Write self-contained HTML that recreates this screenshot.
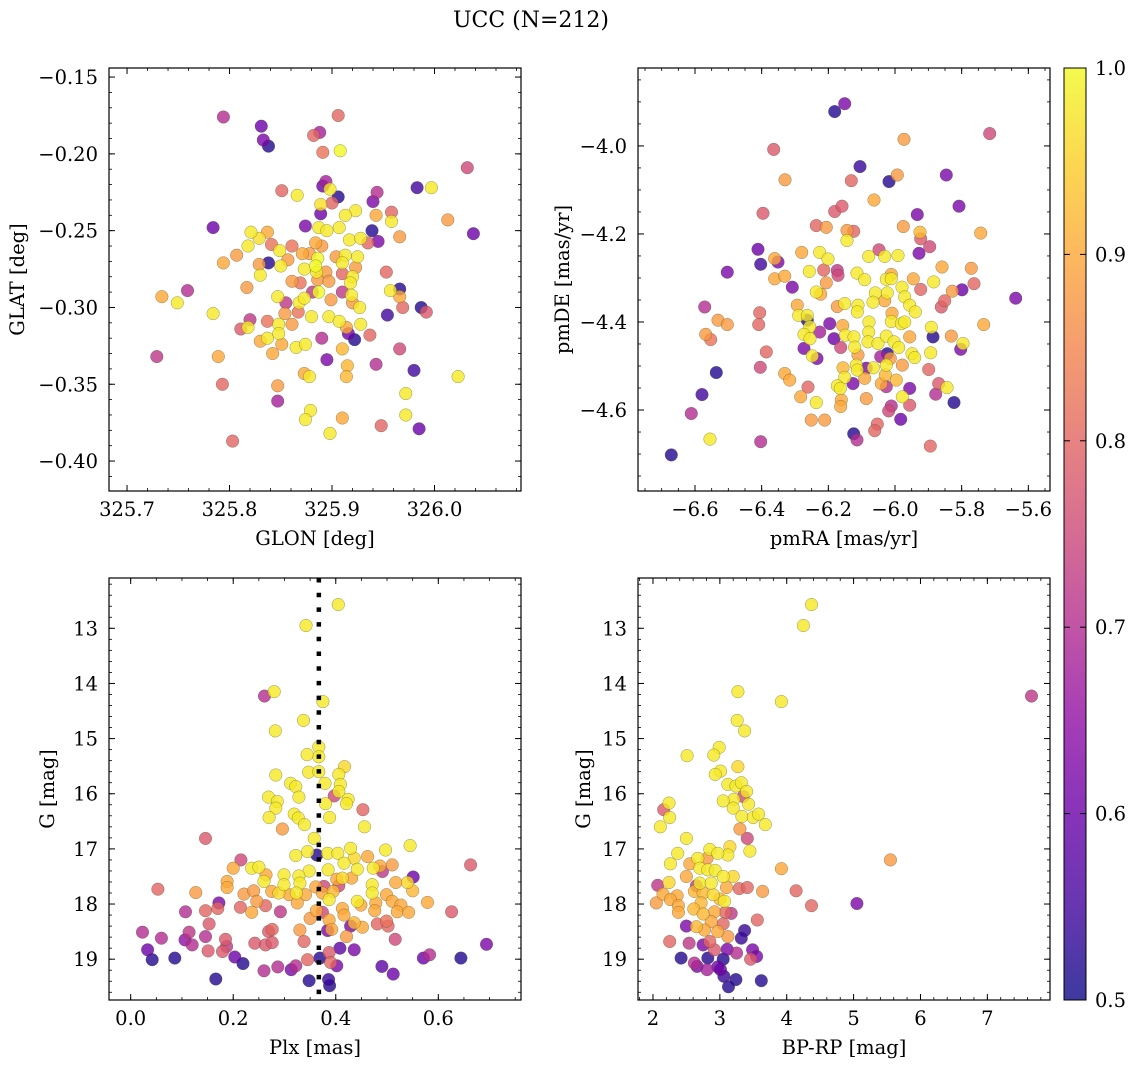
<!DOCTYPE html>
<html><head><meta charset="utf-8">
<style>
html,body{margin:0;padding:0;background:#fff;}
svg{display:block;font-family:"DejaVu Serif","Liberation Serif",serif;}
</style></head>
<body>
<svg id="chart" width="1136" height="1067" viewBox="0 0 1136 1067" xmlns="http://www.w3.org/2000/svg">
<text x="531" y="27" font-size="22" text-anchor="middle">UCC (N=212)</text>
<defs>
<linearGradient id="plasma" x1="0" y1="1" x2="0" y2="0">
<stop offset="0" stop-color="#0d0887"/><stop offset="0.1" stop-color="#41049d"/><stop offset="0.2" stop-color="#6a00a8"/><stop offset="0.3" stop-color="#8f0da4"/><stop offset="0.4" stop-color="#b12a90"/><stop offset="0.5" stop-color="#cc4778"/><stop offset="0.6" stop-color="#e16462"/><stop offset="0.7" stop-color="#f2844b"/><stop offset="0.8" stop-color="#fca636"/><stop offset="0.9" stop-color="#fcce25"/><stop offset="1" stop-color="#f0f921"/>
</linearGradient>
</defs>
<g id="colorbar">
<rect x="1064" y="68" width="22" height="932" fill="url(#plasma)" opacity="0.8"/>
<rect x="1064" y="68" width="22" height="932" fill="none" stroke="#000" stroke-width="1"/>
</g>
</svg>
<script>
// ---- Top-left: GLON vs GLAT ----
const tlX=[325.794,325.831,325.833,325.838,325.906,325.888,325.882,325.891,325.908,326.032,325.851,325.866,325.894,325.891,325.898,325.906,325.900,325.889,325.889,325.944,325.940,325.943,325.983,325.997,325.958,325.958,326.013,326.038,325.784,325.966,325.939,325.945,325.923,325.913,325.821,325.837,325.829,325.818,325.841,325.849,325.861,325.874,325.887,325.895,325.907,325.917,325.928,325.935,325.884,325.890,325.878,325.886,325.884,325.904,325.913,325.925,325.910,325.923,325.871,325.857,325.838,325.829,325.850,325.830,325.873,325.794,325.807,325.885,325.894,325.910,325.920,325.918,325.861,325.869,325.886,325.897,325.953,325.817,325.734,325.759,325.749,325.784,325.847,325.855,325.868,325.873,325.881,325.887,325.899,325.910,325.919,325.920,325.927,325.957,325.966,325.966,325.969,325.987,325.992,325.954,325.854,325.867,325.880,325.897,325.907,325.914,325.928,325.916,325.922,325.937,325.837,325.848,325.861,325.820,325.811,325.818,325.837,325.830,325.848,325.851,325.865,325.874,325.890,325.910,325.842,325.729,325.789,325.895,325.943,325.915,325.914,325.966,325.980,326.023,325.873,325.878,325.793,325.847,325.847,325.972,325.879,325.874,325.910,325.972,325.948,325.985,325.898,325.803];
const tlY=[-0.176,-0.182,-0.191,-0.195,-0.175,-0.186,-0.188,-0.199,-0.198,-0.209,-0.224,-0.227,-0.218,-0.221,-0.223,-0.228,-0.232,-0.233,-0.239,-0.225,-0.231,-0.240,-0.222,-0.222,-0.238,-0.244,-0.243,-0.252,-0.248,-0.254,-0.250,-0.257,-0.237,-0.240,-0.251,-0.251,-0.255,-0.260,-0.259,-0.263,-0.260,-0.247,-0.248,-0.250,-0.248,-0.256,-0.255,-0.258,-0.258,-0.260,-0.265,-0.268,-0.273,-0.267,-0.266,-0.267,-0.271,-0.274,-0.265,-0.269,-0.271,-0.272,-0.273,-0.279,-0.275,-0.271,-0.266,-0.277,-0.277,-0.278,-0.280,-0.284,-0.283,-0.284,-0.282,-0.283,-0.277,-0.287,-0.293,-0.289,-0.297,-0.304,-0.293,-0.297,-0.297,-0.294,-0.290,-0.290,-0.295,-0.290,-0.292,-0.297,-0.300,-0.289,-0.288,-0.293,-0.300,-0.300,-0.303,-0.305,-0.304,-0.303,-0.306,-0.306,-0.309,-0.313,-0.311,-0.317,-0.321,-0.318,-0.309,-0.311,-0.311,-0.308,-0.314,-0.313,-0.320,-0.322,-0.317,-0.324,-0.326,-0.324,-0.320,-0.327,-0.330,-0.332,-0.332,-0.334,-0.337,-0.338,-0.345,-0.327,-0.341,-0.345,-0.343,-0.345,-0.350,-0.351,-0.361,-0.356,-0.367,-0.373,-0.372,-0.370,-0.377,-0.379,-0.382,-0.387];
const tlP=[.7,.6,.62,.52,.8,.68,.8,.82,1,.75,.8,.98,.68,.6,.98,.52,.8,.97,.6,.7,.62,.9,.55,.98,.8,.98,.88,.6,.6,.88,.52,.62,.98,.98,.98,.9,.97,.98,.82,.98,.82,.62,.98,.98,.98,.98,.98,.8,.9,.88,.88,1,1,.88,.98,.98,.98,.88,.9,.88,.52,.88,.98,.98,.98,.9,.88,.98,.88,.8,.98,.98,.88,.82,.88,.88,.8,.88,.9,.7,.98,.98,.98,.72,.98,.98,.72,1,.88,.72,.98,.88,.98,.98,.52,.9,.8,.52,.78,.55,.88,.82,.98,.98,.98,.9,.98,.6,.52,.8,.82,.98,.88,.72,.78,.98,.98,.9,.98,.9,.98,.98,.7,.92,.9,.72,.9,.62,.7,.92,.92,.75,.55,.98,.9,.98,.8,.88,.68,.98,.98,.98,.9,.98,.8,.6,.98,.8];
// ---- Top-right: pmRA vs pmDE ----
const trX=[-6.151,-6.181,-5.716,-5.973,-6.364,-6.105,-5.993,-6.018,-6.131,-6.330,-5.846,-6.063,-5.808,-6.396,-6.181,-6.159,-5.933,-6.236,-6.206,-6.144,-6.124,-6.144,-5.975,-5.925,-5.923,-5.896,-5.928,-5.743,-6.411,-6.403,-6.361,-6.351,-6.503,-6.361,-6.331,-6.308,-6.280,-6.226,-6.201,-6.257,-6.214,-6.173,-6.171,-6.206,-6.236,-6.223,-6.079,-6.048,-6.031,-5.991,-6.114,-6.091,-6.011,-6.026,-6.011,-5.979,-5.945,-5.923,-5.884,-5.859,-5.771,-5.763,-5.828,-5.799,-5.638,-6.059,-6.023,-6.031,-6.066,-5.971,-5.956,-5.939,-5.851,-5.861,-6.293,-6.289,-6.263,-6.263,-6.173,-6.151,-6.111,-6.113,-6.196,-6.157,-6.226,-6.078,-6.079,-6.011,-5.981,-5.971,-6.009,-6.406,-6.409,-6.531,-6.503,-6.571,-6.568,-6.553,-5.734,-5.891,-5.886,-5.831,-5.796,-5.803,-6.256,-6.273,-6.255,-6.183,-6.149,-6.123,-6.163,-6.121,-6.081,-6.051,-6.026,-6.003,-5.989,-5.956,-6.273,-6.248,-6.234,-6.386,-6.111,-6.023,-6.043,-6.014,-5.949,-5.941,-5.893,-6.536,-6.404,-6.331,-6.316,-6.156,-6.116,-6.113,-6.086,-6.065,-6.026,-6.029,-5.978,-5.899,-6.151,-6.091,-5.996,-6.126,-6.041,-6.026,-6.173,-6.164,-6.261,-6.283,-6.236,-6.161,-6.163,-6.086,-5.978,-5.956,-5.956,-5.869,-5.844,-5.878,-5.823,-6.011,-6.019,-5.983,-6.579,-6.611,-6.251,-6.211,-6.053,-6.061,-6.124,-6.114,-6.403,-6.555,-5.894,-6.671];
const trY=[-3.904,-3.922,-3.972,-3.985,-4.008,-4.047,-4.066,-4.081,-4.079,-4.077,-4.066,-4.123,-4.137,-4.153,-4.149,-4.137,-4.156,-4.181,-4.185,-4.192,-4.194,-4.215,-4.183,-4.196,-4.211,-4.229,-4.244,-4.198,-4.235,-4.269,-4.256,-4.264,-4.287,-4.302,-4.296,-4.321,-4.242,-4.242,-4.257,-4.285,-4.282,-4.283,-4.294,-4.311,-4.332,-4.337,-4.251,-4.236,-4.251,-4.249,-4.289,-4.304,-4.292,-4.303,-4.302,-4.321,-4.302,-4.326,-4.309,-4.275,-4.278,-4.313,-4.330,-4.327,-4.346,-4.334,-4.334,-4.352,-4.355,-4.343,-4.362,-4.377,-4.352,-4.366,-4.362,-4.385,-4.385,-4.396,-4.365,-4.358,-4.362,-4.377,-4.404,-4.408,-4.423,-4.400,-4.423,-4.399,-4.404,-4.400,-4.380,-4.379,-4.406,-4.396,-4.406,-4.366,-4.428,-4.440,-4.406,-4.412,-4.434,-4.432,-4.449,-4.462,-4.411,-4.428,-4.438,-4.438,-4.430,-4.434,-4.458,-4.457,-4.445,-4.449,-4.432,-4.445,-4.458,-4.434,-4.460,-4.477,-4.483,-4.468,-4.475,-4.472,-4.479,-4.483,-4.472,-4.481,-4.470,-4.515,-4.503,-4.517,-4.532,-4.504,-4.498,-4.509,-4.505,-4.504,-4.498,-4.520,-4.498,-4.508,-4.526,-4.528,-4.532,-4.540,-4.540,-4.547,-4.545,-4.551,-4.548,-4.570,-4.583,-4.577,-4.592,-4.574,-4.570,-4.551,-4.589,-4.540,-4.549,-4.564,-4.583,-4.591,-4.602,-4.621,-4.565,-4.608,-4.623,-4.623,-4.632,-4.647,-4.654,-4.668,-4.672,-4.666,-4.682,-4.702];
const trP=[.62,.52,.75,.88,.78,.54,.88,.52,.8,.88,.62,.9,.62,.78,.78,.78,.62,.8,.88,.88,.8,.98,.88,.92,.78,.75,.62,.9,.6,.55,.9,.62,.62,.9,.9,.62,.9,.98,.98,.98,.8,.72,.75,.88,.98,.9,.98,.75,.98,.98,.98,.98,.9,.98,.98,.98,.9,.8,.98,.9,.88,.8,.88,.6,.62,.98,.98,.9,.98,.98,.98,.98,.8,.78,.9,.98,.98,.52,.88,.98,.98,.98,.62,.9,.68,.98,.98,.98,.98,.98,.9,.8,.8,.88,.88,.7,.88,.82,.9,.98,.52,.88,.98,.62,.98,.98,.98,.6,.98,.98,.75,.98,.98,.98,.98,.98,.98,.9,.62,.98,.62,.8,.88,.52,.68,.88,.98,.98,.98,.52,.75,.9,.9,.92,.98,.98,.62,.98,.98,.92,.88,.8,.98,.9,.92,.62,.9,.7,.98,.98,.8,.9,.98,.9,.9,.88,.98,.62,.78,.78,.98,.7,.52,.7,.75,.6,.55,.7,.88,.88,.8,.8,.52,.7,.7,.98,.8,.52];
// ---- Bottom-left: Plx vs G ----
const blX=[0.405,0.342,0.280,0.261,0.375,0.337,0.282,0.367,0.367,0.344,0.417,0.406,0.347,0.367,0.283,0.312,0.322,0.379,0.409,0.406,0.397,0.328,0.269,0.286,0.283,0.424,0.421,0.380,0.453,0.319,0.327,0.339,0.270,0.388,0.456,0.296,0.146,0.358,0.545,0.497,0.429,0.345,0.363,0.384,0.404,0.322,0.436,0.462,0.486,0.510,0.473,0.416,0.442,0.491,0.385,0.348,0.215,0.200,0.236,0.250,0.264,0.299,0.328,0.413,0.402,0.431,0.551,0.663,0.188,0.260,0.299,0.330,0.361,0.377,0.406,0.471,0.517,0.540,0.053,0.127,0.188,0.221,0.240,0.275,0.289,0.309,0.323,0.341,0.374,0.395,0.471,0.499,0.550,0.387,0.442,0.449,0.478,0.510,0.527,0.579,0.325,0.246,0.172,0.170,0.214,0.263,0.292,0.236,0.107,0.146,0.362,0.374,0.413,0.416,0.476,0.520,0.542,0.626,0.350,0.387,0.436,0.153,0.481,0.499,0.452,0.429,0.502,0.023,0.114,0.146,0.269,0.276,0.330,0.384,0.392,0.060,0.106,0.120,0.185,0.242,0.263,0.276,0.338,0.421,0.516,0.694,0.033,0.151,0.179,0.187,0.408,0.436,0.387,0.042,0.086,0.203,0.219,0.345,0.369,0.390,0.402,0.571,0.583,0.644,0.490,0.512,0.260,0.287,0.313,0.322,0.166,0.348,0.386,0.388];
const blY=[12.57,12.95,14.15,14.23,14.33,14.67,14.86,15.15,15.33,15.29,15.51,15.65,15.61,15.60,15.66,15.81,15.87,15.81,15.83,15.96,16.04,16.06,16.06,16.14,16.26,16.10,16.18,16.18,16.29,16.37,16.44,16.56,16.43,16.43,16.60,16.64,16.81,16.81,16.94,17.02,16.99,17.05,17.11,17.08,17.08,17.12,17.17,17.14,17.31,17.29,17.35,17.26,17.37,17.41,17.38,17.40,17.20,17.35,17.35,17.33,17.47,17.47,17.49,17.53,17.55,17.53,17.51,17.29,17.59,17.59,17.65,17.62,17.69,17.68,17.67,17.65,17.61,17.61,17.73,17.79,17.70,17.82,17.76,17.77,17.80,17.83,17.80,17.83,17.80,17.77,17.80,17.83,17.76,17.92,17.95,18.02,17.98,17.95,18.02,17.97,17.98,17.95,17.98,18.08,18.06,18.03,18.14,18.15,18.14,18.12,18.12,18.15,18.08,18.20,18.12,18.14,18.15,18.14,18.26,18.29,18.34,18.36,18.36,18.31,18.42,18.40,18.40,18.51,18.51,18.59,18.50,18.46,18.47,18.48,18.46,18.62,18.65,18.74,18.64,18.71,18.74,18.70,18.68,18.59,18.64,18.73,18.83,18.85,18.86,18.77,18.80,18.83,18.88,19.01,18.98,18.96,19.08,19.01,18.98,19.06,19.12,18.98,18.92,18.98,19.13,19.27,19.21,19.14,19.19,19.12,19.36,19.39,19.37,19.48];
const blP=[.98,.98,.98,.7,.98,.98,.98,.98,.98,.98,.96,.98,.98,.98,.98,.98,.98,.98,.98,.98,.75,.98,.98,.98,.98,.98,.98,.98,.8,.98,.98,.98,.98,.98,.98,.88,.78,.98,.98,.98,.98,.98,.52,.98,.98,.98,.96,.9,.9,.88,.98,.98,.98,.72,.98,.98,.75,.9,.98,.98,.9,.98,.98,.96,.9,.9,.6,.78,.9,.98,.98,.98,.9,.75,.75,.98,.9,.96,.8,.88,.9,.88,.88,.9,.96,.9,.98,.9,.9,.92,.98,.9,.92,.98,.98,.9,.9,.9,.9,.9,.9,.88,.62,.8,.8,.8,.72,.9,.7,.8,.9,.75,.9,.9,.9,.9,.9,.78,.88,.9,.92,.78,.8,.82,.9,.62,.8,.7,.72,.7,.78,.8,.88,.62,.9,.7,.65,.7,.78,.78,.78,.78,.8,.88,.75,.62,.6,.78,.78,.72,.58,.62,.78,.52,.52,.6,.52,.8,.52,.8,.62,.6,.7,.52,.58,.6,.7,.7,.62,.7,.52,.52,.54,.52];
// ---- Bottom-right: BP-RP vs G ----
const brX=[4.37,4.25,3.27,3.92,7.66,3.26,3.37,2.99,2.91,2.51,3.27,3.01,2.93,3.12,3.24,3.32,3.40,3.35,3.21,3.05,3.20,3.43,3.33,3.50,3.58,3.68,2.24,2.16,2.25,2.11,3.30,3.41,2.50,3.45,5.55,3.92,2.37,2.26,2.85,3.15,3.12,2.97,2.67,2.55,2.81,2.70,2.82,2.93,3.05,3.20,2.50,2.24,2.07,2.65,2.70,2.87,3.10,3.29,3.41,3.64,4.14,2.15,2.36,2.26,2.62,2.75,2.90,3.00,3.07,2.05,2.38,2.72,4.37,5.05,2.38,2.61,2.75,2.92,3.08,3.17,2.50,2.65,2.87,3.05,3.56,2.77,2.97,3.12,3.37,3.32,2.25,2.54,2.75,2.85,2.92,3.11,3.25,3.49,3.55,3.46,2.42,2.62,2.82,3.05,2.66,2.81,3.01,2.97,3.06,3.24,3.62,3.13];
const brY=[12.57,12.95,14.15,14.33,14.23,14.67,14.86,15.16,15.30,15.31,15.51,15.59,15.65,15.83,15.86,15.80,15.96,16.05,16.10,16.13,16.26,16.19,16.41,16.43,16.37,16.56,16.17,16.29,16.43,16.60,16.64,16.81,16.81,17.04,17.20,17.36,17.08,17.27,17.01,16.96,17.11,17.08,17.17,17.27,17.17,17.35,17.38,17.39,17.50,17.50,17.50,17.61,17.66,17.67,17.62,17.62,17.70,17.72,17.70,17.77,17.76,17.82,17.85,17.92,17.77,17.80,17.83,17.91,17.95,17.98,18.03,17.98,18.03,17.99,18.15,18.09,18.18,18.14,18.15,18.17,18.40,18.41,18.32,18.36,18.29,18.47,18.50,18.59,18.48,18.62,18.68,18.71,18.74,18.68,18.83,18.82,18.89,18.83,18.95,19.00,18.98,19.07,18.98,19.00,19.13,19.19,19.19,19.14,19.31,19.37,19.39,19.50];
const brP=[.98,.98,.98,.98,.72,.98,.98,.98,.98,.98,.96,.98,.98,.98,.98,.98,.98,.75,.98,.98,.98,.98,.98,.98,.98,.98,.98,.78,.98,.98,.88,.75,.98,.98,.88,.9,.98,.98,.98,.96,.98,.98,.98,.9,.88,.98,.98,.98,.98,.96,.9,.96,.72,.72,.98,.98,.9,.8,.8,.88,.8,.9,.9,.9,.92,.92,.96,.92,.98,.88,.9,.92,.8,.62,.9,.92,.92,.9,.8,.72,.62,.92,.9,.8,.8,.9,.9,.88,.54,.54,.8,.72,.62,.8,.78,.62,.7,.62,.62,.78,.52,.7,.52,.52,.62,.68,.6,.6,.54,.52,.52,.52];
const cbTicks=[0.5,0.6,0.7,0.8,0.9,1.0];

const NS="http://www.w3.org/2000/svg";
const svg=document.getElementById('chart');
const FS=19.5;
function mk(tag,attrs,parent){const e=document.createElementNS(NS,tag);for(const k in attrs)e.setAttribute(k,attrs[k]);(parent||svg).appendChild(e);return e;}
const stops=[[0,[13,8,135]],[0.1,[65,4,157]],[0.2,[106,0,168]],[0.3,[143,13,164]],[0.4,[177,42,144]],[0.5,[204,71,120]],[0.6,[225,100,98]],[0.7,[242,132,75]],[0.8,[252,166,54]],[0.9,[252,206,37]],[1,[240,249,33]]];
function plasma(p){let t=Math.max(0,Math.min(1,(p-0.5)/0.5));for(let i=1;i<stops.length;i++){if(t<=stops[i][0]){const a=stops[i-1],b=stops[i];const f=(t-a[0])/(b[0]-a[0]);const c=a[1].map((v,j)=>Math.round(v+(b[1][j]-v)*f));return `rgb(${c[0]},${c[1]},${c[2]})`;}}return 'rgb(240,249,33)';}
function fmt(v,d){const s=Math.abs(v).toFixed(d);return (v<-1e-9?'\u2212':'')+s;}

function panel(cfg){
  const {name,x0,y0,x1,y1,xmin,xmax,ymin,ymax,xs,ys,ps,xt,xminor,xd,yt,yminor,yd,xlabel,ylabel,ylabX,invertY}=cfg;
  const g=mk('g',{});
  
  
  const sx=v=>x0+(v-xmin)/(xmax-xmin)*(x1-x0);
  const sy=invertY? (v=>y0+(v-ymin)/(ymax-ymin)*(y1-y0)) : (v=>y1-(v-ymin)/(ymax-ymin)*(y1-y0));
  const clip=mk('clipPath',{id:'clip-'+name},g);
  mk('rect',{x:x0,y:y0,width:x1-x0,height:y1-y0},clip);
  const pts=mk('g',{'clip-path':`url(#clip-${name})`},g);
  
  
  const n=Math.min(xs.length,ys.length,ps.length);
  const idx=[...Array(n).keys()].sort((a,b)=>ps[a]-ps[b]);
  for(const i of idx){
    const c=mk('circle',{cx:sx(xs[i]).toFixed(1),cy:sy(ys[i]).toFixed(1),r:6.3,fill:plasma(ps[i]),'fill-opacity':0.8,stroke:'rgba(70,70,40,0.55)','stroke-width':0.5},pts);
    
    
  }
  if(cfg.vline!==undefined){
    const l=mk('line',{x1:sx(cfg.vline),x2:sx(cfg.vline),y1:y0,y2:y1,stroke:'#000','stroke-width':4.5,'stroke-dasharray':'4.5 10.2'},g);
    
    
  }
  const fr=mk('rect',{x:x0,y:y0,width:x1-x0,height:y1-y0,fill:'none',stroke:'#000','stroke-width':1.2},g);
  
  
  for(const v of xminor){const x=sx(v);if(x<x0||x>x1)continue;mk('line',{x1:x,x2:x,y1:y1,y2:y1-3,stroke:'#000','stroke-width':0.8},g);mk('line',{x1:x,x2:x,y1:y0,y2:y0+3,stroke:'#000','stroke-width':0.8},g);}
  for(const v of xt){const x=sx(v);mk('line',{x1:x,x2:x,y1:y1,y2:y1-6,stroke:'#000','stroke-width':1},g);mk('line',{x1:x,x2:x,y1:y0,y2:y0+6,stroke:'#000','stroke-width':1},g);
    const t=mk('text',{x:x,y:y1+25,'font-size':FS,'text-anchor':'middle'},g);t.textContent=fmt(v,xd);
    
    }
  for(const v of yminor){const y=sy(v);if(y<y0||y>y1)continue;mk('line',{x1:x0,x2:x0+3,y1:y,y2:y,stroke:'#000','stroke-width':0.8},g);mk('line',{x1:x1,x2:x1-3,y1:y,y2:y,stroke:'#000','stroke-width':0.8},g);}
  for(const v of yt){const y=sy(v);mk('line',{x1:x0,x2:x0+6,y1:y,y2:y,stroke:'#000','stroke-width':1},g);mk('line',{x1:x1,x2:x1-6,y1:y,y2:y,stroke:'#000','stroke-width':1},g);
    const t=mk('text',{x:x0-11,y:y+7,'font-size':FS,'text-anchor':'end'},g);t.textContent=fmt(v,yd);
    
    }
  const xl=mk('text',{x:(x0+x1)/2,y:y1+54,'font-size':FS,'text-anchor':'middle'},g);xl.textContent=xlabel;
  
  
  const yc=(y0+y1)/2;
  const yl=mk('text',{x:ylabX,y:yc,'font-size':FS,'text-anchor':'middle',transform:`rotate(-90 ${ylabX} ${yc})`},g);yl.textContent=ylabel;
  
  
}
function range(a,b,s){const r=[];for(let v=a;v<=b+1e-9;v+=s)r.push(+v.toFixed(6));return r;}

panel({name:'glon-glat-panel',x0:109,y0:68,x1:521,y1:491,xmin:325.6824,xmax:326.0844,ymin:-0.4195,ymax:-0.1441,xs:tlX,ys:tlY,ps:tlP,
  xt:[325.7,325.8,325.9,326.0],xminor:range(325.68,326.08,0.02),xd:1,yt:[-0.15,-0.2,-0.25,-0.3,-0.35,-0.4],yminor:range(-0.42,-0.14,0.01),yd:2,xlabel:'GLON [deg]',ylabel:'GLAT [deg]',ylabX:24});
panel({name:'pm-panel',x0:638,y0:68,x1:1050,y1:491,xmin:-6.771,xmax:-5.535,ymin:-4.784,ymax:-3.823,xs:trX,ys:trY,ps:trP,
  xt:[-6.6,-6.4,-6.2,-6.0,-5.8,-5.6],xminor:range(-6.75,-5.55,0.05),xd:1,yt:[-4.0,-4.2,-4.4,-4.6],yminor:range(-4.75,-3.85,0.05),yd:1,xlabel:'pmRA [mas/yr]',ylabel:'pmDE [mas/yr]',ylabX:569});
panel({name:'plx-g-panel',x0:109,y0:578,x1:521,y1:1000,xmin:-0.0423,xmax:0.7613,ymin:12.088,ymax:19.74,invertY:true,xs:blX,ys:blY,ps:blP,vline:0.367,
  xt:[0,0.2,0.4,0.6],xminor:range(-0.05,0.75,0.05),xd:1,yt:[13,14,15,16,17,18,19],yminor:range(12.2,19.6,0.2),yd:0,xlabel:'Plx [mas]',ylabel:'G [mag]',ylabX:54});
panel({name:'cmd-panel',x0:638,y0:578,x1:1050,y1:1000,xmin:1.776,xmax:7.937,ymin:12.088,ymax:19.74,invertY:true,xs:brX,ys:brY,ps:brP,
  xt:[2,3,4,5,6,7],xminor:range(1.8,7.8,0.2),xd:0,yt:[13,14,15,16,17,18,19],yminor:range(12.2,19.6,0.2),yd:0,xlabel:'BP-RP [mag]',ylabel:'G [mag]',ylabX:590});

const cb=document.getElementById('colorbar');
for(const v of cbTicks){const y=1000-(v-0.5)/0.5*932;
  mk('line',{x1:1086,x2:1080,y1:y,y2:y,stroke:'#000','stroke-width':1},cb);
  mk('line',{x1:1064,x2:1070,y1:y,y2:y,stroke:'#000','stroke-width':1},cb);
  const t=mk('text',{x:1095,y:y+7,'font-size':FS},cb);t.textContent=v.toFixed(1);
  
  }
</script>
</body></html>
